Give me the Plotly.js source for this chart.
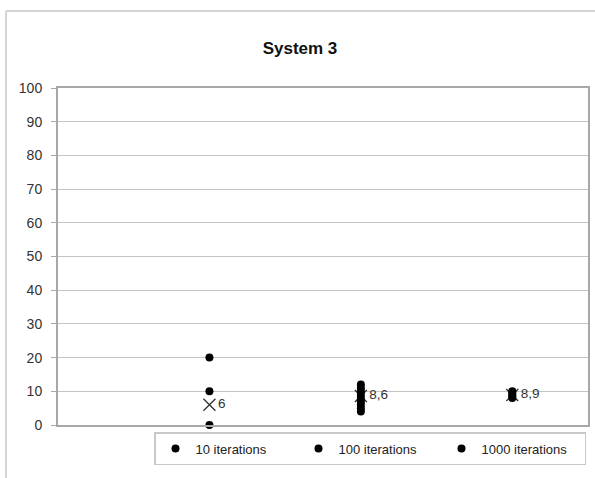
<!DOCTYPE html>
<html>
<head>
<meta charset="utf-8">
<script src="https://cdn.plot.ly/plotly-3.0.1.min.js"></script>
<style>
html,body{margin:0;padding:0;background:#fff;}
#chart{width:595px;height:478px;}
</style>
</head>
<body>
<div id="chart"></div>
<script>
// Data
const seriesNames = ["10 iterations", "100 iterations", "1000 iterations"];
const seriesX = [1, 2, 3];
const values10 = [0, 10, 20];
const values100 = [4, 5, 6, 7, 8, 9, 10, 11, 12];
const values1000 = [8, 8.5, 9, 9.5, 10];
const means = [6, 8.6, 8.9];
const meanLabels = ["6", "8,6", "8,9"];
const yTicks = [0, 10, 20, 30, 40, 50, 60, 70, 80, 90, 100];

const allValues = [values10, values100, values1000];
const FONT = "Liberation Sans, Arial, sans-serif";

const traces = [];
// mean markers (drawn first, dots go over them)
traces.push({
  x: seriesX, y: means, text: meanLabels,
  mode: "markers+text", type: "scatter", showlegend: false,
  textposition: "middle right",
  textfont: {family: FONT, size: 13.5, color: "#333"},
  marker: {symbol: "x-thin-open", size: 12, color: "#333", line: {width: 1.3, color: "#333"}},
  hoverinfo: "skip", cliponaxis: false
});
allValues.forEach((vals, i) => {
  traces.push({
    x: vals.map(() => seriesX[i]), y: vals,
    name: seriesNames[i], mode: "markers", type: "scatter",
    marker: {color: "#000", size: 8},
    cliponaxis: false
  });
});

const L = 58, T = 88, R = 7, B = 53;
const pw = 595 - L - R, ph = 478 - T - B;

const layout = {
  width: 595, height: 478,
  margin: {l: L, r: R, t: T, b: B, pad: 0},
  paper_bgcolor: "#fff", plot_bgcolor: "#fff",
  font: {family: FONT, size: 13, color: "#333"},
  title: {
    text: "<b>System 3</b>",
    font: {family: FONT, size: 17, color: "#111"},
    xref: "container", x: 300 / 595, xanchor: "center",
    yref: "container", y: 1 - 48 / 478, yanchor: "middle"
  },
  xaxis: {
    range: [0, 3.5], showticklabels: false, ticks: "", showgrid: false,
    zeroline: false, showline: true, linecolor: "#a8a8a8", linewidth: 2, mirror: true,
    fixedrange: true
  },
  yaxis: {
    range: [0, 100], tickvals: yTicks, ticktext: yTicks.map(String),
    ticks: "outside", ticklen: 5, tickcolor: "#a8a8a8", tickwidth: 1,
    ticklabelstandoff: 6,
    showgrid: true, gridcolor: "#c4c4c4", gridwidth: 1,
    zeroline: false, showline: true, linecolor: "#a8a8a8", linewidth: 2, mirror: true,
    tickfont: {family: FONT, size: 14, color: "#333"},
    fixedrange: true
  },
  showlegend: true,
  legend: {
    orientation: "h",
    xref: "paper", x: (154 - L) / pw, xanchor: "left",
    yref: "paper", y: (425 - 432) / ph, yanchor: "top",
    bordercolor: "#c8c8c8", borderwidth: 1.5, bgcolor: "#fff",
    font: {family: FONT, size: 13, color: "#222"},
    entrywidth: 98, entrywidthmode: "pixels",
    itemwidth: 30, traceorder: "normal"
  },
  shapes: [
    // outer chart border (left & top visible)
    {type: "line", xref: "paper", yref: "paper",
     x0: (6 - L) / pw, x1: (6 - L) / pw, y0: (425 - 478) / ph - 0.1, y1: (425 - 11) / ph,
     line: {color: "#d4d4d4", width: 2}},
    {type: "line", xref: "paper", yref: "paper",
     x0: (6 - L) / pw, x1: 1.1, y0: (425 - 11) / ph, y1: (425 - 11) / ph,
     line: {color: "#d4d4d4", width: 2}}
  ]
};

Plotly.newPlot("chart", traces, layout, {displayModeBar: false, staticPlot: true});
</script>
</body>
</html>
